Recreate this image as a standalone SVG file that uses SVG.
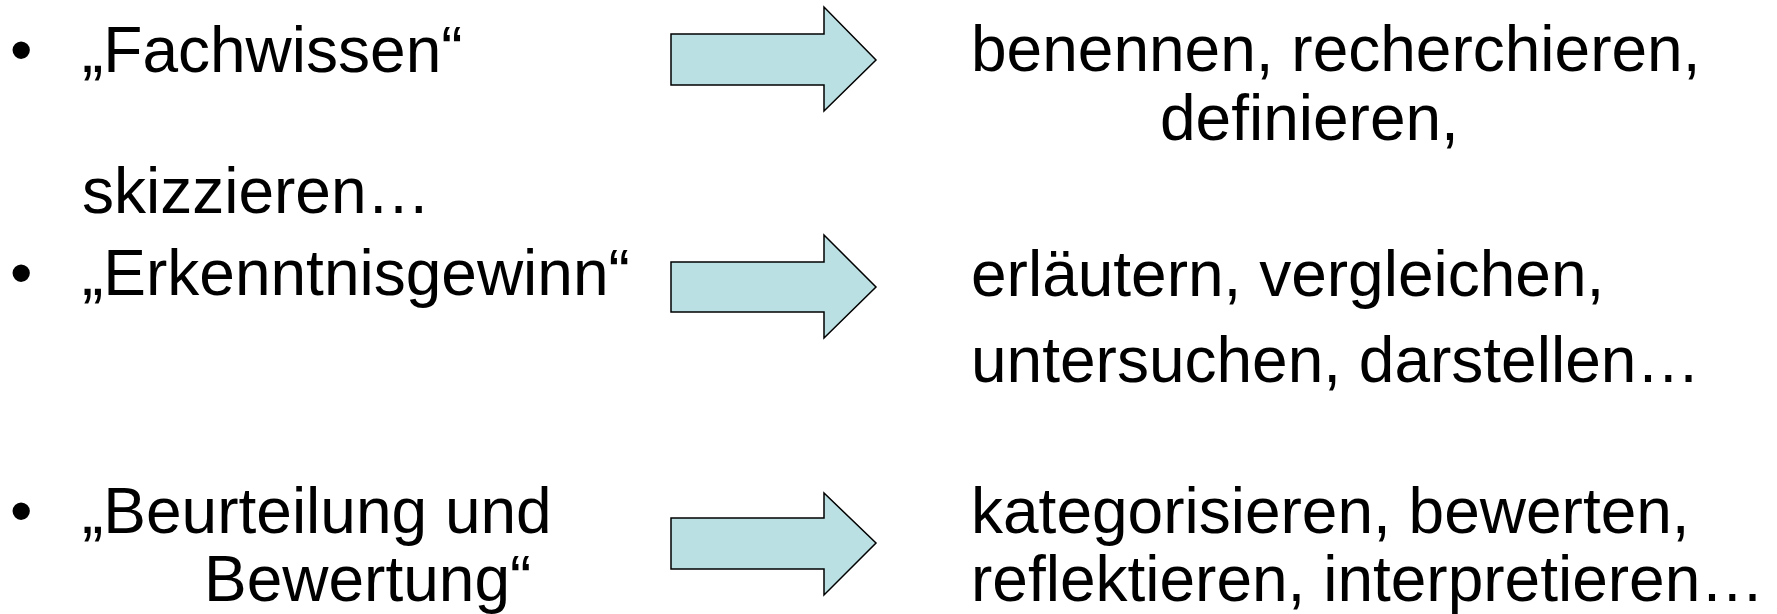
<svg xmlns="http://www.w3.org/2000/svg" width="1777" height="614" viewBox="0 0 1777 614">
<style>
text{font-family:"Liberation Sans",Arial,sans-serif;font-size:64px;fill:#000}
.arr{fill:#BBE0E3;stroke:#000;stroke-width:1.5;stroke-linejoin:miter}
</style>
<rect width="1777" height="614" fill="#fff"/>
<g id="left1"><text x="10" y="72">•</text><text x="82" y="72">„Fachwissen“</text><text x="82" y="213">skizzieren…</text></g>
<g id="left2"><text x="10" y="295">•</text><text x="82" y="295">„Erkenntnisgewinn“</text></g>
<g id="left3"><text x="10" y="533">•</text><text x="82" y="533">„Beurteilung und</text><text x="204" y="601">Bewertung“</text></g>
<g id="connectors">
<polygon class="arr" points="671,34 824,34 824,7 876,60 824,111 824,85 671,85"/>
<polygon class="arr" points="671,262 824,262 824,235 876,287 824,338 824,312 671,312"/>
<polygon class="arr" points="671,518 824,518 824,493 876,543 824,595 824,569 671,569"/>
</g>
<g id="right1"><text x="971" y="71">benennen, recherchieren,</text><text x="1160" y="140">definieren,</text></g>
<g id="right2"><text x="971" y="296">erläutern, vergleichen,</text><text x="971" y="382">untersuchen, darstellen…</text></g>
<g id="right3"><text x="971" y="533">kategorisieren, bewerten,</text><text x="971" y="601">reflektieren, interpretieren…</text></g>
</svg>
